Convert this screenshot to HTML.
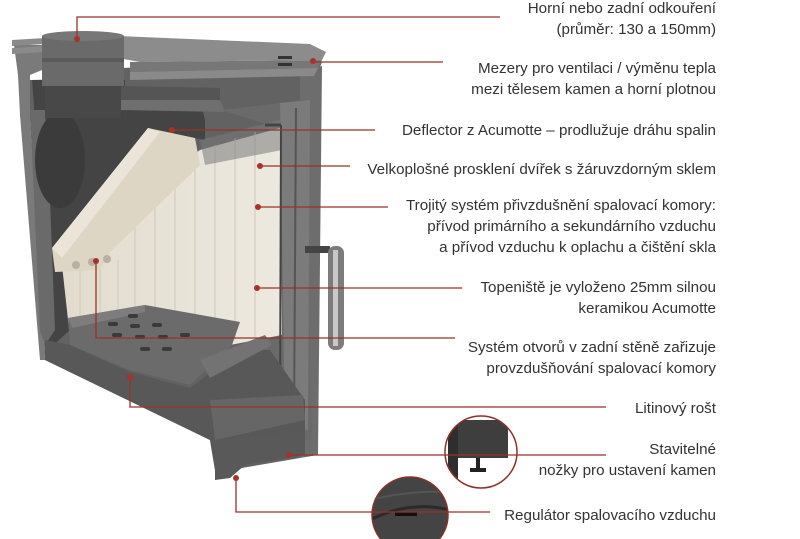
<!DOCTYPE html>
<html><head><meta charset="utf-8"><style>
html,body{margin:0;padding:0;background:#fff;}
svg{display:block}
text{font-family:"Liberation Sans",sans-serif;font-size:15.2px;fill:#333;}
</style></head><body>
<svg width="800" height="539" viewBox="0 0 800 539" xmlns="http://www.w3.org/2000/svg">
<defs>
<linearGradient id="cer" x1="0" x2="1"><stop offset="0" stop-color="#e2dccd"/><stop offset="1" stop-color="#ece9e0"/></linearGradient>
<clipPath id="c1"><circle cx="481" cy="452" r="36"/></clipPath>
<clipPath id="c2"><circle cx="410" cy="515" r="38"/></clipPath>
</defs>
<!-- left back panel -->
<polygon points="14,45 42,45 42,70 30,75 30,120 45,360 40,360 20,115 18,75" fill="#7a7a7a"/>
<polygon points="12,40 45,38 45,44 12,46" fill="#8a8a8a"/>
<polygon points="12,48 45,46 45,52 12,54" fill="#8a8a8a"/>
<!-- main body -->
<polygon points="120,68 322,62 318,72 316,450 300,458 230,470 215,470 210,440 45,360 30,120 30,80 120,78" fill="#626262"/>
<polygon points="300,72 322,66 318,455 300,458" fill="#6d6d6d"/>
<!-- dark interior cavity -->
<polygon points="32,80 125,80 125,100 200,98 205,120 205,140 150,130 60,250 70,330 48,350 40,330 35,120" fill="#444"/>
<polygon points="30,110 45,110 50,200 55,330 45,345 40,330" fill="#6a6a6a"/>
<ellipse cx="60" cy="160" rx="25" ry="48" fill="#3b3b3b"/>
<!-- top plate -->
<polygon points="118,36 310,44 326,52 322,60 140,62 118,58" fill="#8c8c8c"/>
<polygon points="130,62 322,60 318,68 130,72" fill="#777"/>
<polygon points="130,72 318,68 314,76 130,80" fill="#8a8a8a"/>
<rect x="278" y="56" width="14" height="3" fill="#333"/><rect x="278" y="63" width="14" height="3" fill="#333"/>
<polygon points="118,86 220,88 220,100 118,100" fill="#555"/>
<polygon points="118,100 220,100 225,112 118,110" fill="#6f6f6f"/>
<!-- flue -->
<rect x="42" y="36" width="82" height="50" fill="#6a6a6a"/>
<rect x="42" y="58" width="82" height="4" fill="#5a5a5a"/>
<ellipse cx="83" cy="36" rx="41" ry="5" fill="#777"/>
<rect x="45" y="86" width="76" height="32" fill="#484848"/>
<!-- door frame -->
<polygon points="222,110 305,100 312,440 262,445 215,445 225,360 262,380 268,125" fill="#6a6a6a"/>
<polygon points="280,103 310,100 308,430 285,425" fill="#7b7b7b"/>
<line x1="296" y1="108" x2="294" y2="420" stroke="#555" stroke-width="2"/>
<!-- ceramic back -->
<polygon points="125,205 200,150 280,128 282,335 230,345 70,338 62,265" fill="url(#cer)"/>
<g stroke="#cfc9ba" stroke-width="1">
<line x1="135" y1="200" x2="135" y2="335"/><line x1="155" y1="185" x2="155" y2="338"/><line x1="175" y1="170" x2="175" y2="340"/><line x1="195" y1="155" x2="195" y2="340"/><line x1="215" y1="145" x2="215" y2="340"/><line x1="235" y1="138" x2="235" y2="340"/><line x1="255" y1="132" x2="255" y2="338"/>
<line x1="80" y1="265" x2="80" y2="335"/><line x1="100" y1="265" x2="100" y2="335"/><line x1="118" y1="260" x2="118" y2="335"/>
</g>
<!-- baffle -->
<polygon points="52,248 148,128 195,138 200,165 110,252 100,270 55,272" fill="#ddd6c4"/>
<polygon points="52,248 148,128 160,132 62,258" fill="#eae5d8"/>
<circle cx="76" cy="265" r="4" fill="#b8b0a0"/><circle cx="92" cy="262" r="4" fill="#b8b0a0"/><circle cx="107" cy="259" r="4" fill="#b8b0a0"/>
<!-- glass frame top -->
<polygon points="200,140 280,120 282,150 205,165" fill="#7a7a7a" opacity="0.55"/>
<line x1="281" y1="125" x2="280" y2="420" stroke="#444" stroke-width="2"/>
<line x1="265" y1="125" x2="281" y2="125" stroke="#444" stroke-width="3"/>
<!-- grate -->
<polygon points="68,318 145,305 240,322 232,345 190,385 130,370 70,345" fill="#6b6b6b"/>
<polygon points="68,318 145,305 145,312 72,328" fill="#7d7d7d"/>
<g fill="#3a3a3a">
<rect x="128" y="314" width="10" height="4" rx="2"/><rect x="108" y="322" width="10" height="4" rx="2"/><rect x="130" y="324" width="10" height="4" rx="2"/><rect x="152" y="323" width="10" height="4" rx="2"/>
<rect x="112" y="333" width="10" height="4" rx="2"/><rect x="135" y="335" width="10" height="4" rx="2"/><rect x="158" y="335" width="10" height="4" rx="2"/><rect x="180" y="333" width="10" height="4" rx="2"/>
<rect x="140" y="347" width="10" height="4" rx="2"/><rect x="162" y="347" width="10" height="4" rx="2"/>
</g>
<polygon points="45,340 70,345 130,372 190,388 240,350 270,350 305,400 305,440 240,460 215,470 210,440 45,360" fill="#585858"/>
<polygon points="200,360 265,335 272,345 210,378" fill="#737373"/>
<polygon points="210,400 303,395 305,420 215,440" fill="#666"/>
<polygon points="215,440 305,430 305,455 245,465 230,478 215,480" fill="#595959"/>
<!-- handle -->
<rect x="305" y="246" width="25" height="7" fill="#444"/>
<rect x="328" y="246" width="16" height="104" rx="7" fill="#7c7c7c"/>
<rect x="333" y="250" width="5" height="96" fill="#c8c8c8"/>
<!-- magnifier circles -->
<g clip-path="url(#c1)"><rect x="440" y="410" width="90" height="90" fill="#fff"/><rect x="448" y="420" width="60" height="38" fill="#3e3e3e"/><rect x="448" y="420" width="10" height="70" fill="#2e2e2e"/><rect x="476" y="458" width="4" height="12" fill="#222"/><rect x="470" y="468" width="16" height="4" fill="#222"/></g>
<circle cx="481" cy="452" r="36" fill="none" stroke="#8e3028" stroke-width="1.5"/>
<g clip-path="url(#c2)"><rect x="370" y="475" width="80" height="80" fill="#444"/><path d="M370 520 Q410 500 450 510" stroke="#2a2a2a" stroke-width="3" fill="none"/><path d="M370 500 Q410 490 450 492" stroke="#555" stroke-width="2" fill="none"/><rect x="395" y="512" width="22" height="4" fill="#111"/></g>
<circle cx="410" cy="515" r="38" fill="none" stroke="#8e3028" stroke-width="1.5"/>
<!-- connectors -->
<g stroke="#9b3129" stroke-width="1.3" fill="none">
<polyline points="77,38 77,17 500,17"/>
<line x1="313" y1="62" x2="443" y2="62"/>
<line x1="172" y1="130" x2="375" y2="130"/>
<line x1="260" y1="166" x2="350" y2="166"/>
<line x1="258" y1="207" x2="388" y2="207"/>
<line x1="257" y1="288" x2="462" y2="288"/>
<polyline points="96,262 96,338 455,338"/>
<polyline points="130,377 130,407 606,407"/>
<line x1="289" y1="455" x2="606" y2="455"/>
<polyline points="236,478 236,512 490,512"/>
</g>
<g fill="#a8322a">
<circle cx="77" cy="39" r="3"/><circle cx="313" cy="61" r="3"/><circle cx="172" cy="130" r="3"/><circle cx="260" cy="166" r="3"/><circle cx="258" cy="207" r="3"/><circle cx="257" cy="288" r="3"/><circle cx="96" cy="261" r="3"/><circle cx="130" cy="377" r="3"/><circle cx="289" cy="455" r="3"/><circle cx="236" cy="478" r="3"/>
</g>
<!-- labels -->
<g text-anchor="end">
<text x="716" y="13">Horní nebo zadní odkouření</text>
<text x="716" y="34">(průměr: 130 a 150mm)</text>
<text x="716" y="73">Mezery pro ventilaci / výměnu tepla</text>
<text x="716" y="94">mezi tělesem kamen a horní plotnou</text>
<text x="716" y="135">Deflector z Acumotte – prodlužuje dráhu spalin</text>
<text x="716" y="174">Velkoplošné prosklení dvířek s žáruvzdorným sklem</text>
<text x="716" y="210">Trojitý systém přivzdušnění spalovací komory:</text>
<text x="716" y="231">přívod primárního a sekundárního vzduchu</text>
<text x="716" y="252">a přívod vzduchu k oplachu a čištění skla</text>
<text x="716" y="292">Topeniště je vyloženo 25mm silnou</text>
<text x="716" y="313">keramikou Acumotte</text>
<text x="716" y="352">Systém otvorů v zadní stěně zařizuje</text>
<text x="716" y="373">provzdušňování spalovací komory</text>
<text x="716" y="413">Litinový rošt</text>
<text x="716" y="454">Stavitelné</text>
<text x="716" y="475">nožky pro ustavení kamen</text>
<text x="716" y="520">Regulátor spalovacího vzduchu</text>
</g>
</svg>
</body></html>
